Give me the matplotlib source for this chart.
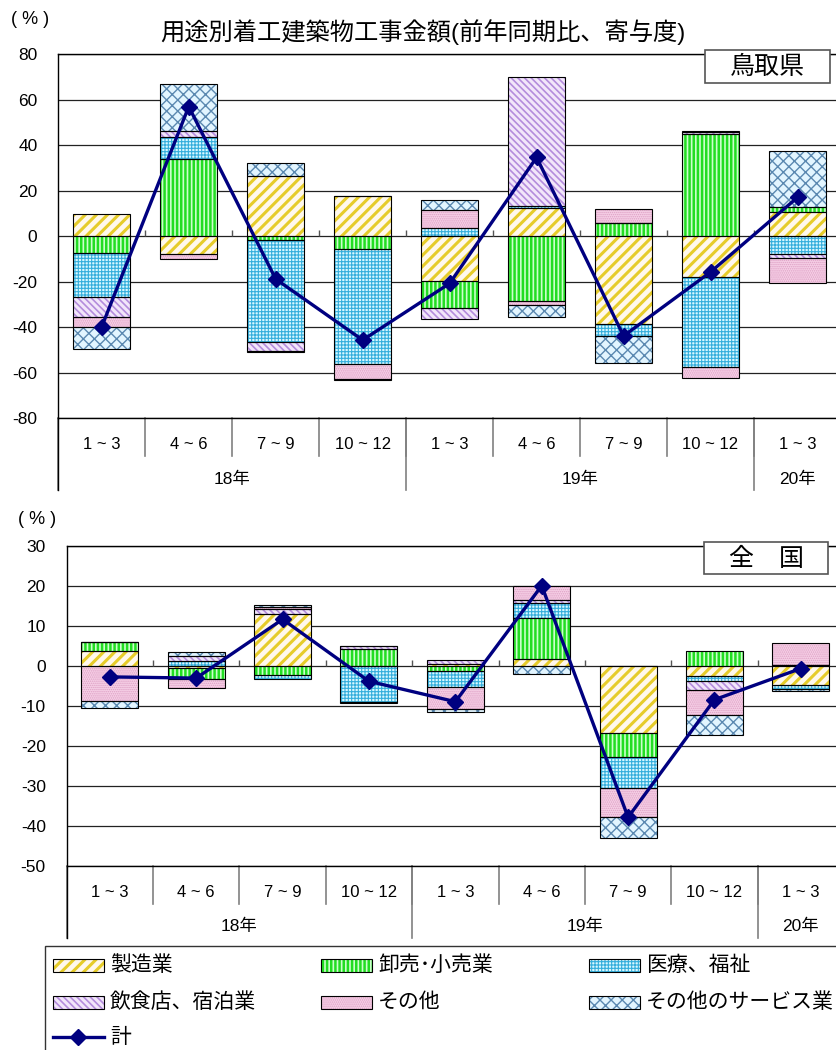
import numpy as np
import matplotlib
matplotlib.use('Agg')
import matplotlib.pyplot as plt
from matplotlib.patches import Rectangle

plt.rcParams['font.family'] = ['Liberation Sans', 'Noto Sans CJK JP']

# categories
quarters = ['1 ~ 3', '4 ~ 6', '7 ~ 9', '10 ~ 12', '1 ~ 3', '4 ~ 6', '7 ~ 9', '10 ~ 12', '1 ~ 3']
years = ['18年', '19年', '20年']
year_spans = [(0, 4), (4, 8), (8, 9)]
series_names = ['製造業', '卸売･小売業', '医療、福祉', '飲食店、宿泊業', 'その他', 'その他のサービス業']

# 鳥取県 contributions
tt_seizo = [10.0, -7.9, 26.5, 17.8, -19.6, 12.3, -38.7, -18.0, 10.5]
tt_orosi = [-7.2, 34.0, -1.6, -5.7, -11.8, -28.3, 5.7, 45.1, 2.5]
tt_iryo = [-19.6, 9.5, -44.7, -50.3, 3.8, 1.2, -5.1, -39.3, -7.9]
tt_inshoku = [-8.5, 2.8, -4.0, 0.0, -4.8, 56.7, 0.0, 0.7, -1.8]
tt_sonota = [-4.4, -1.9, -0.7, -6.7, 7.8, -1.9, 6.2, -5.1, -10.7]
tt_service = [-9.8, 20.5, 5.9, -0.5, 4.2, -5.4, -12.0, 0.5, 24.6]
tt_total = [-39.7, 57.0, -18.8, -45.6, -20.7, 34.7, -43.8, -15.7, 17.1]

# 全国 contributions
zk_seizo = [3.8, -0.5, 12.9, 0.0, 0.4, 1.8, -16.8, -2.5, -4.7]
zk_orosi = [2.2, -2.7, -2.2, 4.1, -1.4, 10.2, -5.9, 3.8, 0.2]
zk_iryo = [0.0, 1.2, -1.1, -9.0, -3.9, 3.7, -7.8, -1.3, -1.2]
zk_inshoku = [0.0, 1.3, 1.2, 0.9, 1.1, 0.7, 0.0, -2.2, 0.0]
zk_sonota = [-8.75, -2.4, 0.7, 0.0, -5.5, 3.6, -7.4, -6.4, 5.6]
zk_service = [-1.8, 1.0, 0.5, -0.3, -0.7, -2.1, -5.1, -4.8, -0.3]
zk_total = [-2.8, -3.1, 11.6, -3.9, -9.0, 20.0, -37.9, -8.5, -0.7]

# face colour, hatch colour, hatch, hatch width
styles = [
    ('#FFF8EC', '#E6CC2A', '///', 2.2),
    ('#CCFFCC', '#22DD22', '||||', 1.8),
    ('#D8F8FF', '#35AEDC', '+++++', 0.8),
    ('#F2E6FA', '#B48CDC', '\\\\\\\\\\', 1.2),
    ('#F6CFE6', '#DDA0C4', '........', 0.7),
    ('#E2F5FF', '#5A88B0', 'xxx', 1.0),
]

W, H = 837, 1050
fig = plt.figure(figsize=(W / 100, H / 100), dpi=100)


def fbox(l, t, r, b):
    return [l / W, 1 - b / H, (r - l) / W, (b - t) / H]


def set_hw(patches, hw):
    for p in patches:
        if hasattr(p, 'set_hatch_linewidth'):
            p.set_hatch_linewidth(hw)
        else:
            p._hatch_linewidth = hw


def draw_panel(ax, data, total, ymin, ymax, step, tick_up, cat_y, yr_y, short, long_):
    x = np.arange(len(quarters)) + 0.5
    pos = np.zeros(len(x))
    neg = np.zeros(len(x))
    for vals, (fc, hc, h, hw) in zip(data, styles):
        vals = np.array(vals)
        bottom = np.where(vals >= 0, pos, neg)
        with plt.rc_context({'hatch.linewidth': hw}):
            bars = ax.bar(x, vals, 0.66, bottom=bottom, color=fc, edgecolor=hc, hatch=h, linewidth=0, zorder=2)
        set_hw(bars, hw)
        ax.bar(x, vals, 0.66, bottom=bottom, fill=False, edgecolor='black', linewidth=0.8, zorder=3)
        pos += np.clip(vals, 0, None)
        neg += np.clip(vals, None, 0)
    ax.plot(x, total, color='#000080', lw=2.4, marker='D', markersize=8.5, zorder=5)

    ax.set_xlim(0, len(quarters))
    ax.set_ylim(ymin, ymax)
    yt = np.arange(ymin, ymax + 1, step)
    ax.set_yticks(yt)
    ax.set_yticklabels([str(int(v)) for v in yt], fontsize=12.5)
    ax.tick_params(axis='y', length=0, pad=15)
    ax.set_xticks([])
    ax.yaxis.grid(True, color='#222222', lw=0.9, zorder=1)
    ax.set_axisbelow(True)
    ax.spines['right'].set_visible(False)
    for s in ['left', 'top', 'bottom']:
        ax.spines[s].set_color('black')
        ax.spines[s].set_linewidth(1.0)

    # small category ticks on the zero line
    ax.vlines(np.arange(1, len(quarters)), 0, tick_up, color='#555555', lw=1.0, zorder=1)

    tr = ax.get_xaxis_transform()
    for i in range(1, len(quarters)):
        ax.plot([i, i], [0, -short], transform=tr, clip_on=False, color='#808080', lw=1.2)
    for a, b in year_spans:
        ax.plot([a, a], [0, -long_], transform=tr, clip_on=False, color='#808080', lw=1.2)
    ax.plot([0, 0], [0, -long_], transform=tr, clip_on=False, color='black', lw=1.0)
    for xi, q in zip(x, quarters):
        ax.text(xi, cat_y, q, transform=tr, ha='center', va='center', fontsize=12)
    for (a, b), yl in zip(year_spans, years):
        ax.text((a + b) / 2, yr_y, yl, transform=tr, ha='center', va='center', fontsize=12.5)


ax1 = fig.add_axes(fbox(58.3, 54.3, 841, 418.3))
draw_panel(ax1, [tt_seizo, tt_orosi, tt_iryo, tt_inshoku, tt_sonota, tt_service], tt_total,
           -80, 80, 20, 2.6, -0.073, -0.168, 0.104, 0.197)

ax2 = fig.add_axes(fbox(66.7, 545.7, 844, 865.7))
draw_panel(ax2, [zk_seizo, zk_orosi, zk_iryo, zk_inshoku, zk_sonota, zk_service], zk_total,
           -50, 30, 10, 1.4, -0.085, -0.19, 0.12, 0.226)

# overlay in pixel coordinates for title, boxes and legend
ov = fig.add_axes([0, 0, 1, 1])
ov.set_xlim(0, W)
ov.set_ylim(H, 0)
ov.axis('off')
ov.patch.set_visible(False)

ov.text(423, 32, '用途別着工建築物工事金額(前年同期比、寄与度)', ha='center', va='center', fontsize=17.5)
ov.text(30, 19, '( % )', ha='center', va='center', fontsize=13)
ov.text(37, 520, '( % )', ha='center', va='center', fontsize=13)

for (l, t, r, b), label in [((705.5, 50, 830, 82.5), '鳥取県'), ((704, 541.5, 828.5, 574), '全\u3000国')]:
    ov.add_patch(Rectangle((l, t), r - l, b - t, facecolor='white', edgecolor='#555555', lw=1.2, zorder=6))
    ov.text((l + r) / 2, (t + b) / 2 + 1, label, ha='center', va='center', fontsize=18, zorder=7)

# legend
ov.add_patch(Rectangle((45, 946), 800, 110, facecolor='white', edgecolor='#333333', lw=1.0, zorder=1))
cols = [53, 321, 589]
rows = [965, 1002]
for k, (name, (fc, hc, h, hw)) in enumerate(zip(series_names, styles)):
    px = cols[k % 3]
    py = rows[k // 3]
    with plt.rc_context({'hatch.linewidth': hw}):
        key = Rectangle((px, py - 6.5), 51, 13, facecolor=fc, edgecolor=hc, hatch=h, lw=0, zorder=2)
    set_hw([key], hw)
    ov.add_patch(key)
    ov.add_patch(Rectangle((px, py - 6.5), 51, 13, fill=False, edgecolor='black', lw=0.8, zorder=3))
    ov.text(px + 57, py, name, ha='left', va='center', fontsize=15, zorder=3)
ov.plot([53, 104], [1037, 1037], color='#000080', lw=2.4, zorder=3)
ov.plot([78.5], [1037], color='#000080', marker='D', markersize=8.5, zorder=4)
ov.text(110, 1037, '計', ha='left', va='center', fontsize=15, zorder=3)

fig.savefig('out.png', dpi=100)
